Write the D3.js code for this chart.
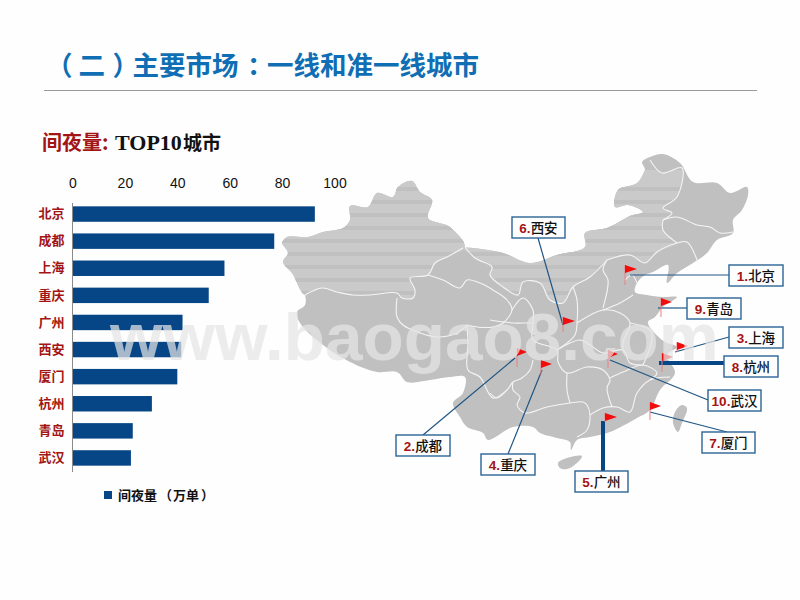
<!DOCTYPE html>
<html>
<head>
<meta charset="utf-8">
<script src="https://cdn.jsdelivr.net/npm/d3@7"></script>
<style>
  html, body { margin: 0; padding: 0; background: #fefefe; }
  svg { display: block; }
  text { font-family: "Noto Sans CJK SC", "Liberation Sans", sans-serif; }
</style>
</head>
<body>
<svg id="canvas"></svg>
<script>
// chart data
const cities = ['北京', '成都', '上海', '重庆', '广州', '西安', '厦门', '杭州', '青岛', '武汉'];
const nights = [92.5, 77, 58, 52, 42, 41.5, 40, 30.3, 23, 22.3];
const xTicks = [0, 20, 40, 60, 80, 100];

// map outlines
const chinaOutline = [[282,243],[287,237],[308,237],[323,232],[343,228],[350,220],[350,206],[368,207],[377,193],[393,197],[398,187],[412,181],[420,192],[432,200],[428,218],[450,227],[465,247],[473,248],[503,253],[530,263],[557,255],[585,247],[585,233],[607,228],[630,216],[643,212],[628,205],[615,207],[618,190],[637,183],[645,170],[642,162],[650,157],[663,154],[680,163],[693,182],[717,183],[730,193],[747,187],[748,195],[742,210],[733,220],[733,233],[717,240],[707,253],[693,263],[677,273],[667,283],[668,265],[653,272],[645,275],[637,283],[635,292],[647,295],[663,297],[677,297],[663,307],[655,317],[648,322],[652,330],[665,342],[677,347],[667,355],[675,373],[660,390],[650,410],[637,418],[610,432],[590,437],[577,440],[571,450],[570,442],[557,438],[540,433],[533,427],[513,427],[488,440],[483,433],[467,427],[460,417],[453,403],[463,393],[465,377],[450,377],[430,380],[407,382],[397,372],[377,372],[350,362],[323,345],[300,323],[297,312],[305,305],[305,295],[292,273],[283,262],[288,253],[283,245]];
const hainan = [[558,463],[567,458],[582,456],[577,463],[567,469],[560,468]];
const taiwan = [[682,405],[687,408],[682,423],[678,432],[673,423],[675,412]];
const stripedXinjiang = [[282,243],[287,237],[308,237],[323,232],[343,228],[350,220],[350,206],[368,207],[377,193],[393,197],[398,187],[412,181],[420,192],[432,200],[428,218],[450,227],[465,247],[447,257],[435,263],[428,275],[410,278],[415,290],[413,298],[402,298],[397,293],[370,295],[353,295],[337,292],[322,288],[305,295],[292,273],[283,262],[288,253],[283,245]];
const stripedMongolia = [[463,248],[473,248],[503,253],[530,263],[557,255],[585,247],[585,233],[607,228],[630,216],[643,212],[628,205],[615,207],[618,190],[637,183],[645,170],[650,160],[662,173],[682,168],[677,197],[663,208],[672,213],[663,220],[663,230],[677,243],[657,252],[645,263],[630,255],[607,260],[590,277],[573,287],[563,303],[550,300],[540,283],[523,282],[518,295],[503,287],[490,275],[492,267],[475,258]];
const provinceLines = [
  [[305,295],[322,288],[337,292],[353,295],[370,295],[397,293],[402,298],[413,298],[415,290],[410,278],[428,275],[435,263],[447,257],[463,248]],
  [[397,298],[397,317],[403,325],[420,333],[437,337],[457,333],[467,325]],
  [[428,275],[443,280],[460,288],[467,280],[480,283],[493,290],[507,300],[512,310],[503,323],[493,327],[477,327],[467,325]],
  [[465,247],[475,258],[492,267],[490,275],[503,287],[518,295],[523,282],[540,283],[550,300],[563,303],[573,287],[590,277],[607,260]],
  [[467,325],[468,343],[468,370],[480,377],[493,398],[507,390],[513,382],[522,378],[530,370],[533,360]],
  [[512,310],[523,298],[533,310],[533,323],[533,340],[557,350],[558,362],[567,373],[587,367],[603,370],[610,380],[607,388],[612,407]],
  [[490,320],[513,323],[527,323],[533,323]],
  [[513,382],[513,390],[520,397],[517,405],[525,413],[547,407],[570,403],[583,402],[587,405],[590,415],[587,430],[577,437]],
  [[567,373],[567,390],[570,403]],
  [[590,415],[603,408],[617,407],[630,412],[637,393],[650,380],[670,377]],
  [[610,378],[623,372],[643,365],[657,373],[650,380]],
  [[557,350],[580,340],[590,345],[603,353],[623,350],[630,363],[643,365]],
  [[573,287],[577,300],[577,323],[575,335],[557,350]],
  [[577,323],[603,310],[620,313],[630,323],[623,342],[623,350]],
  [[603,310],[620,303],[633,295]],
  [[630,323],[650,330],[652,340],[643,365]],
  [[607,260],[603,270],[608,280],[603,308]],
  [[607,260],[630,255],[645,263],[657,252],[677,243],[687,242],[697,260]],
  [[625,280],[632,275],[637,283]],
  [[663,220],[677,217],[697,225],[710,227],[720,233],[733,232]],
  [[663,220],[663,230],[677,243]],
  [[650,160],[662,173],[682,168],[677,197],[663,208],[672,213],[663,220]],
  [[490,393],[497,398],[507,390]]
];

// flags: pole x, flag top, flag tip x, pole bottom
const flagPoles = [625, 517, 677, 541, 605, 563, 650, 662, 661, 608];
const flagTops = [265, 348, 342, 360, 413, 317, 402, 353, 298, 350];
const flagTips = [637, 527, 688, 552, 617, 575, 661, 673, 672, 618];
const flagBottoms = [285, 367, 352, 375, 422, 332, 420, 372, 317, 368];

// callouts, in rank order
const boxLeft = [729, 396, 729, 481, 575, 512, 702, 724, 687, 708];
const boxTop = [265, 435, 327, 454, 471, 217, 432, 356, 298, 390];
const boxWidth = [54, 54, 54, 54, 53, 53, 53, 54, 54, 53];
const leaderLines = [
  [[630,275],[729,275]], [[423,435],[515,358]], [[729,337],[675,352]], [[508,454],[542,370]],
  [[603,421],[603,471]], [[538,238],[563,325]], [[727,432],[650,412]], [[659,363],[724,363]],
  [[658,308],[687,308]], [[708,400],[610,360]]
];
const leaderWidths = [1.2, 1.2, 1.2, 1.2, 4, 1.2, 1.2, 4, 1.2, 1.2];

// the brackets and colon sit centred in the reference, so glyphs are placed one by one
const titleText = '（二）主要市场：一线和准一线城市';
const titleX = [46, 78.5, 112.5, 132.5, 159, 185.5, 212, 247, 267, 293.5, 320, 346.5, 373, 399.5, 426, 452.5];
const legendText = '间夜量（万单）';
const legendX = [118, 131, 144, 159, 173, 186, 201];

const w = 800;
const h = 600;
const navy = '#064686';
const darkRed = '#a31515';

const canvas = d3.select('#canvas').attr('width', w).attr('height', h);
const line = d3.line();
const wiggly = d3.line().curve(d3.curveCatmullRom.alpha(0.5));
const closedShape = d3.line().curve(d3.curveCatmullRomClosed.alpha(0.5));

// header
canvas.append('text').attr('x', titleX.join(' ')).attr('y', 75)
  .attr('font-size', 26.5).attr('font-weight', 700).attr('fill', '#0f6eb4')
  .text(titleText);
canvas.append('line').attr('x1', 44).attr('x2', 757).attr('y1', 90.5).attr('y2', 90.5)
  .attr('stroke', '#9a9a9a').attr('stroke-width', 1);

let subtitle = canvas.append('text').attr('x', 42).attr('y', 150).attr('font-size', 20).attr('font-weight', 700);
subtitle.append('tspan').attr('fill', darkRed).text('间夜量:');
subtitle.append('tspan').attr('fill', '#111').attr('x', 115).attr('font-size', 22)
  .style('font-family', '"Liberation Serif", serif').text('TOP10');
subtitle.append('tspan').attr('fill', '#111').attr('x', 183).attr('font-size', 19).text('城市');

// map
let defs = canvas.append('defs');
let clip = defs.append('clipPath').attr('id', 'stripes-clip');
clip.append('path').attr('d', closedShape(stripedXinjiang));
clip.append('path').attr('d', closedShape(stripedMongolia));

let map = canvas.append('g').attr('id', 'map');
map.selectAll('path.land')
  .data([chinaOutline, hainan, taiwan])
  .enter()
  .append('path')
  .attr('class', 'land')
  .attr('d', d => closedShape(d))
  .attr('fill', '#c0c0c0');

let striped = map.append('g').attr('clip-path', 'url(#stripes-clip)');
striped.append('rect').attr('x', 270).attr('y', 170).attr('width', 430).attr('height', 150).attr('fill', '#cacaca');
striped.selectAll('rect.dark')
  .data(d3.range(187, 310, 13))
  .enter()
  .append('rect')
  .attr('class', 'dark')
  .attr('x', 270).attr('width', 430)
  .attr('y', d => d).attr('height', 4)
  .attr('fill', '#c0c0c0');

map.selectAll('path.border')
  .data(provinceLines)
  .enter()
  .append('path')
  .attr('class', 'border')
  .attr('d', d => wiggly(d))
  .attr('fill', 'none')
  .attr('stroke', '#f4f4f4')
  .attr('stroke-width', 1.1);

// bars
let xScale = d3.scaleLinear().domain([0, 100]).range([72.5, 334.5]);
let yScale = d3.scaleBand().domain(cities).range([200.5, 471.5]).paddingInner(0.43).paddingOuter(0.215);

canvas.selectAll('rect.bar')
  .data(cities)
  .enter()
  .append('rect')
  .attr('class', 'bar')
  .attr('x', xScale(0))
  .attr('y', d => yScale(d))
  .attr('width', (d, i) => xScale(nights[i]) - xScale(0))
  .attr('height', yScale.bandwidth())
  .attr('fill', navy);

let xAxis = d3.axisTop(xScale).tickValues(xTicks).tickSize(0).tickPadding(0);
let gx = canvas.append('g').attr('transform', 'translate(0,188)').call(xAxis);
gx.select('.domain').remove();
gx.selectAll('text').attr('font-size', 14).attr('fill', '#111')
  .style('font-family', '"Liberation Sans", sans-serif');

let yAxis = d3.axisLeft(yScale).tickSize(0).tickPadding(8);
let gy = canvas.append('g').attr('transform', 'translate(72.5,0)').call(yAxis);
gy.select('.domain').attr('stroke', '#8a8a8a').attr('d', 'M0,203V472');
gy.selectAll('text').attr('font-size', 13).attr('font-weight', 700).attr('fill', darkRed)
  .style('font-family', '"Noto Sans CJK SC", sans-serif');

// legend
canvas.append('rect').attr('x', 104).attr('y', 491).attr('width', 8).attr('height', 8).attr('fill', navy);
canvas.append('text').attr('x', legendX.join(' ')).attr('y', 499.5)
  .attr('font-size', 13).attr('font-weight', 700).attr('fill', '#111')
  .text(legendText);

// leader lines
canvas.selectAll('path.leader')
  .data(leaderLines)
  .enter()
  .append('path')
  .attr('class', 'leader')
  .attr('d', d => line(d))
  .attr('fill', 'none')
  .attr('stroke', (d, i) => leaderWidths[i] > 2 ? navy : '#1f5584')
  .attr('stroke-width', (d, i) => leaderWidths[i]);

// flags
let flags = canvas.selectAll('g.flag').data(cities).enter().append('g').attr('class', 'flag');
flags.append('line')
  .attr('x1', (d, i) => flagPoles[i]).attr('x2', (d, i) => flagPoles[i])
  .attr('y1', (d, i) => flagTops[i]).attr('y2', (d, i) => flagBottoms[i])
  .attr('stroke', '#ee8080').attr('stroke-width', 1);
flags.append('path')
  .attr('d', (d, i) => line([[flagPoles[i], flagTops[i]], [flagTips[i], flagTops[i] + 4], [flagPoles[i], flagTops[i] + 8]]) + 'Z')
  .attr('fill', '#f20d0d');

// callout boxes
let boxes = canvas.selectAll('g.callout').data(cities).enter().append('g').attr('class', 'callout');
boxes.append('rect')
  .attr('x', (d, i) => boxLeft[i]).attr('y', (d, i) => boxTop[i])
  .attr('width', (d, i) => boxWidth[i]).attr('height', 21)
  .attr('fill', '#fefefe').attr('stroke', '#2a6496').attr('stroke-width', 1.4);
let boxText = boxes.append('text')
  .attr('x', (d, i) => boxLeft[i] + boxWidth[i] / 2)
  .attr('y', (d, i) => boxTop[i] + 15.5)
  .attr('text-anchor', 'middle')
  .attr('font-size', 13.5);
boxText.append('tspan').attr('fill', darkRed).attr('font-weight', 700)
  .style('font-family', '"Liberation Sans", sans-serif')
  .text((d, i) => (i + 1) + '.');
boxText.append('tspan').attr('fill', '#111').attr('font-weight', 500).text(d => d);

// watermark sits over everything
canvas.append('text').attr('x', 110).attr('y', 360)
  .attr('font-size', 67.5).attr('font-weight', 700)
  .style('font-family', '"Liberation Sans", sans-serif')
  .attr('fill', '#e4e4e4').attr('fill-opacity', 0.72)
  .text('www.baogao8.com');
</script>
</body>
</html>
